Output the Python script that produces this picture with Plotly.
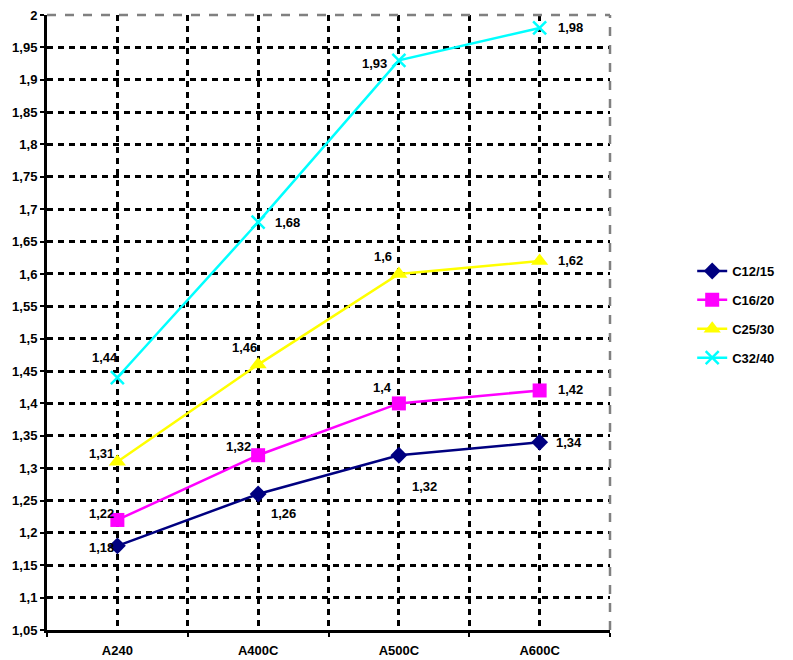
import plotly.graph_objects as go

categories = ["A240", "A400C", "A500C", "A600C"]
series_names = ["C12/15", "C16/20", "C25/30", "C32/40"]
c12_15 = [1.18, 1.26, 1.32, 1.34]
c16_20 = [1.22, 1.32, 1.40, 1.42]
c25_30 = [1.31, 1.46, 1.60, 1.62]
c32_40 = [1.44, 1.68, 1.93, 1.98]
y_ticks = [1.05, 1.1, 1.15, 1.2, 1.25, 1.3, 1.35, 1.4, 1.45, 1.5, 1.55, 1.6,
           1.65, 1.7, 1.75, 1.8, 1.85, 1.9, 1.95, 2.0]

series_values = [c12_15, c16_20, c25_30, c32_40]
colors = ["#000080", "#FF00FF", "#FFFF00", "#00FFFF"]
symbols = ["diamond", "square", "triangle-up", "x-thin"]
sizes = [13, 14, 15, 13]

# label placement per point: (xanchor, xshift, yshift)
label_pos = [
    [("right", -1, -2), ("left", 11, -19), ("left", 11, -31), ("left", 14, 0)],
    [("right", -1, 6), ("right", -5, 9), ("right", -5, 16), ("left", 16, 1)],
    [("right", -1, 8), ("right", 1, 17), ("right", -5, 17), ("left", 16, 1)],
    [("right", 3, 20), ("left", 15, 0), ("right", -10, -3), ("left", 16, 0)],
]

FONT = "Liberation Sans, Arial"

def fmt(v):
    return ("%g" % v).replace(".", ",")

xpos = list(range(len(categories)))
fig = go.Figure()
for i, name in enumerate(series_names):
    marker = dict(symbol=symbols[i], size=sizes[i], color=colors[i])
    if symbols[i] == "x-thin":
        marker["line"] = dict(color=colors[i], width=2.5)
    else:
        marker["line"] = dict(color=colors[i], width=0)
    fig.add_trace(go.Scatter(
        x=xpos, y=series_values[i], mode="lines+markers", name=name,
        line=dict(color=colors[i], width=2.5), marker=marker,
        legendgroup=name,
    ))

annotations = []
for i, vals in enumerate(series_values):
    for j, v in enumerate(vals):
        xa, xs, ys = label_pos[i][j]
        annotations.append(dict(
            x=xpos[j], y=v, xref="x", yref="y", text="<b>" + fmt(v) + "</b>",
            showarrow=False,
            xanchor=xa, yanchor="middle", xshift=xs, yshift=ys,
            font=dict(family=FONT, size=13, color="#000000"),
        ))

grid_dash = "6px,5px"
fig.update_layout(
    width=793, height=660,
    margin=dict(l=47, r=183, t=15, b=30, autoexpand=False),
    paper_bgcolor="white", plot_bgcolor="white",
    font=dict(family=FONT, size=13, color="#000000", weight="bold"),
    separators=", ",
    showlegend=True,
    legend=dict(x=1.146, y=0.513, xanchor="left", yanchor="middle",
                font=dict(family=FONT, size=13, weight="bold"), traceorder="grouped",
                tracegroupgap=9, bgcolor="rgba(0,0,0,0)"),
    annotations=annotations,
    shapes=[
        dict(type="line", xref="paper", yref="paper", x0=0, x1=1, y0=1, y1=1,
             line=dict(color="#808080", width=2.5, dash="dash"), layer="above"),
        dict(type="line", xref="paper", yref="paper", x0=1, x1=1, y0=0, y1=1,
             line=dict(color="#808080", width=2.5, dash="dash"), layer="above"),
    ],
)
fig.update_xaxes(
    range=[-0.5, 3.5], tickmode="array", tickvals=xpos, ticktext=categories,
    ticks="", showgrid=True, gridcolor="#000000", gridwidth=3, griddash=grid_dash,
    showline=True, linecolor="#000000", linewidth=3, zeroline=False,
    automargin=False,
    tickfont=dict(family=FONT, size=13, weight="bold"), ticklabelstandoff=6,
    minor=dict(tick0=-0.5, dtick=1, ticks="outside", ticklen=4, tickcolor="#000000",
               tickwidth=2, showgrid=True, gridcolor="#000000", gridwidth=3,
               griddash=grid_dash),
)
fig.update_yaxes(
    range=[1.05, 2.0], tickmode="array", tickvals=y_ticks,
    ticks="outside", ticklen=4, tickcolor="#000000", tickwidth=2,
    showgrid=True, gridcolor="#000000", gridwidth=3, griddash=grid_dash,
    showline=True, linecolor="#000000", linewidth=3, zeroline=False,
    automargin=False,
    tickfont=dict(family=FONT, size=13, weight="bold"),
)
fig.write_html(
    "out.html",
    config={"displayModeBar": False},
    post_script="document.body.style.margin='0';document.body.style.padding='0';"
                "document.body.style.overflow='hidden';",
)
